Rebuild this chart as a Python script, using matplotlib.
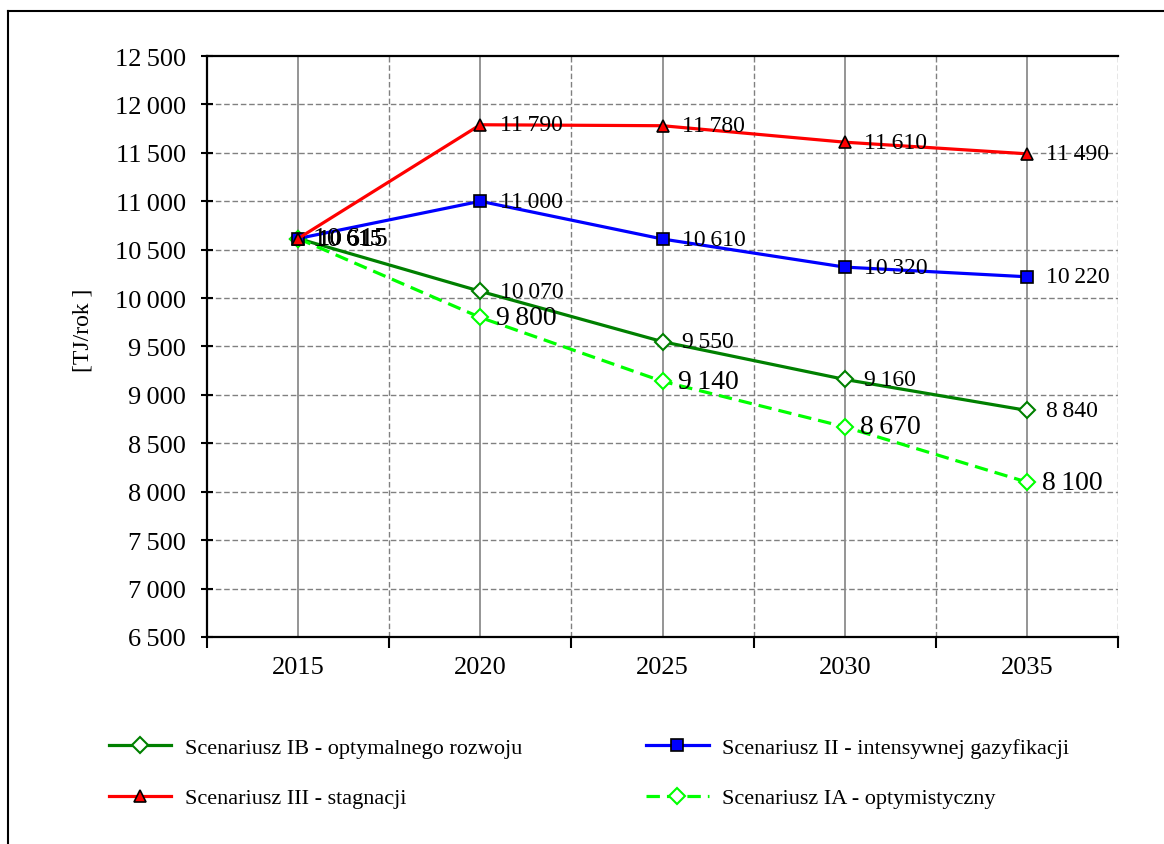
import matplotlib
matplotlib.use("Agg")
import matplotlib.pyplot as plt
from matplotlib.lines import Line2D
from matplotlib.ticker import FuncFormatter, MultipleLocator

plt.rcParams['font.family'] = ['Liberation Serif', 'DejaVu Serif']

years = ["2015", "2020", "2025", "2030", "2035"]
ib_vals = [10615, 10070, 9550, 9160, 8840]
ii_vals = [10615, 11000, 10610, 10320, 10220]
iii_vals = [10615, 11790, 11780, 11610, 11490]
ia_vals = [10615, 9800, 9140, 8670, 8100]

names = {
    "ib": "Scenariusz IB - optymalnego rozwoju",
    "ii": "Scenariusz II - intensywnej gazyfikacji",
    "iii": "Scenariusz III - stagnacji",
    "ia": "Scenariusz IA - optymistyczny",
}
y_label = "[TJ/rok ]"


def fmt(v):
    s = f"{int(v):,}".replace(",", "\u2009")
    return s


fig = plt.figure(figsize=(11.64, 8.45), dpi=100)
ax = fig.add_axes([207 / 1164, 1 - 638 / 845, (1118 - 207) / 1164, (638 - 57) / 845])

x = list(range(len(years)))
lw = 2.3
h_ib, = ax.plot(x, ib_vals, color="#008000", lw=lw, marker="D", ms=8.5,
                mfc="white", mec="#008000", mew=1.5, zorder=5)
h_ii, = ax.plot(x, ii_vals, color="#0000FF", lw=lw, marker="s", ms=8.5,
                mfc="#0000FF", mec="black", mew=1.2, zorder=6)
h_iii, = ax.plot(x, iii_vals, color="#FF0000", lw=lw, marker="^", ms=9,
                 mfc="#FF0000", mec="black", mew=1.2, zorder=6)
h_ia, = ax.plot(x, ia_vals, color="#00FF00", lw=lw, ls=(0, (4.2, 2.2)), marker="D", ms=8.5,
                mfc="white", mec="#00FF00", mew=1.5, zorder=5)

ax.set_xlim(-0.5, len(years) - 0.5)
ax.set_ylim(6500, 12500)
ax.yaxis.set_major_locator(MultipleLocator(500))
ax.yaxis.set_major_formatter(FuncFormatter(lambda v, p: fmt(v)))

# grid
for yv in range(7000, 12500, 500):
    ax.axhline(yv, color="#808080", lw=1.0, ls=(0, (4, 2)), zorder=1)
for xi in x:
    ax.axvline(xi, color="#8c8c8c", lw=1.3, zorder=1)
for xb in [i + 0.5 for i in x]:
    ax.axvline(xb, color="#808080", lw=1.0, ls=(0, (4, 2)), zorder=1)

ax.set_xticks(x)
ax.set_xticklabels(years)
ax.tick_params(axis="x", which="major", length=0, pad=14, labelsize=19)
ax.set_xticks([i - 0.5 for i in range(len(years) + 1)], minor=True)
ax.tick_params(axis="x", which="minor", length=8, width=1.5, direction="out")
ax.tick_params(axis="y", length=8, width=1.5, direction="inout", labelsize=19, pad=11)

for s in ["left", "bottom", "top"]:
    ax.spines[s].set_linewidth(1.6)
ax.spines["right"].set_visible(False)

ax.set_ylabel(y_label, fontsize=17)
ax.yaxis.set_label_coords(-0.125, 0.53)

# data labels
small = 17
big = 20
for i in range(len(years)):
    ax.annotate(fmt(iii_vals[i]), (x[i], iii_vals[i]), xytext=(14, 0),
                textcoords="offset points", fontsize=small, va="center", zorder=7)
    ax.annotate(fmt(ii_vals[i]), (x[i], ii_vals[i]), xytext=(14, 0),
                textcoords="offset points", fontsize=small, va="center", zorder=7)
    ax.annotate(fmt(ib_vals[i]), (x[i], ib_vals[i]), xytext=(14, 0),
                textcoords="offset points", fontsize=small, va="center", zorder=7)
    ax.annotate(fmt(ia_vals[i]), (x[i], ia_vals[i]), xytext=(11, 0),
                textcoords="offset points", fontsize=big, va="center", zorder=7)

# legend
leg = fig.legend([h_ib, h_iii, h_ii, h_ia],
                 [names["ib"], names["iii"], names["ii"], names["ia"]],
                 ncol=2, loc="upper left", bbox_to_anchor=(98 / 1164, 1 - 727 / 845),
                 frameon=False, fontsize=16, handlelength=2.8, handletextpad=0.6,
                 columnspacing=5.6, labelspacing=1.36, borderpad=0)

# figure border (left and top visible)
fig.add_artist(Line2D([8 / 1164, 8 / 1164], [0, 1 - 12 / 845], color="black", lw=1.5,
                      transform=fig.transFigure))
fig.add_artist(Line2D([8 / 1164, 1], [1 - 12 / 845, 1 - 12 / 845], color="black", lw=1.5,
                      transform=fig.transFigure))

fig.savefig("out.png", dpi=100)
